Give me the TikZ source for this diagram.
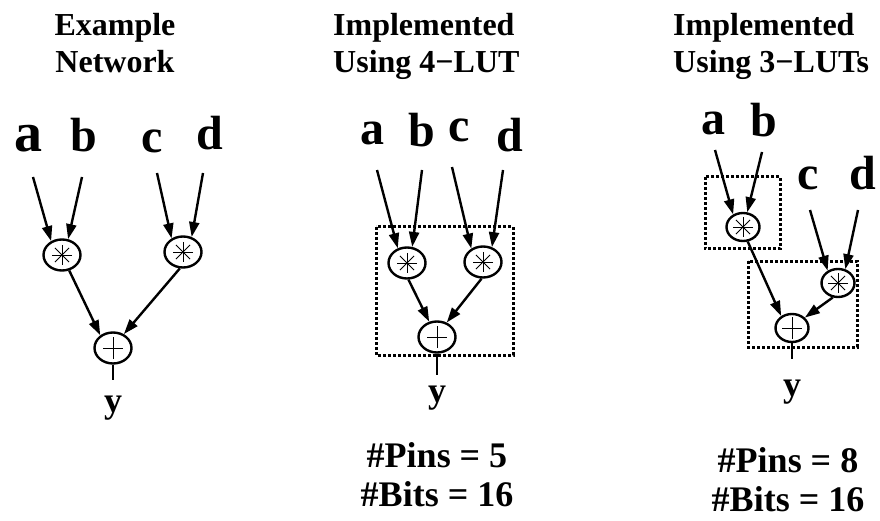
\documentclass[tikz,border=0pt]{standalone}
\usepackage{fontspec}
\setmainfont{Liberation Serif}
\usepackage{tikz}
\usetikzlibrary{shapes.geometric,arrows.meta,calc}

\begin{document}
\begin{tikzpicture}[
    x=1pt, y=-1pt,
    title/.style={font=\fontsize{32}{37}\selectfont\bfseries, inner sep=0pt},
    inp/.style={font=\fontsize{48}{48}\selectfont\bfseries, anchor=base, inner sep=0pt},
    outp/.style={font=\fontsize{36}{36}\selectfont\bfseries, anchor=base, inner sep=0pt},
    cost/.style={font=\fontsize{36}{39}\selectfont\bfseries, align=center, anchor=north, inner sep=0pt},
    op/.style={ellipse, draw, line width=2.4pt, inner sep=0pt, minimum width=37pt, minimum height=31pt},
    small/.style={minimum width=33pt, minimum height=28pt},
    mul/.style={op, path picture={
        \foreach \ang in {0,45,90,135}
            \draw[line width=0.9pt] ($(path picture bounding box.center)+(\ang:10pt)$) -- ($(path picture bounding box.center)+(\ang+180:10pt)$);
    }},
    add/.style={op, path picture={
        \draw[line width=0.9pt] ($(path picture bounding box.center)+(-10pt,0)$) -- ++(20pt,0pt);
        \draw[line width=0.9pt] ($(path picture bounding box.center)+(0,-11pt)$) -- ++(0pt,22pt);
    }},
    arrow/.style={-{Triangle[length=15pt,width=10pt]}, line width=2.4pt},
    wire/.style={line width=2.4pt},
    lutbox/.style={line width=3pt, dash pattern=on 3pt off 2pt}
]
\useasboundingbox (0,0) rectangle (880,521);

% Titles
\node[title, align=center, anchor=north] (ttl1) at (115,13) {Example\\Network};
\node[title, align=left, anchor=north west] (ttl2) at (333,13) {Implemented\\Using 4−LUT};
\node[title, align=left, anchor=north west] (ttl3) at (673,13) {Implemented\\Using 3−LUTs};

% Example network
\node[inp, font=\fontsize{56}{56}\selectfont\bfseries] (a1) at (28,152) {a};
\node[inp] (b1) at (84,152) {b};
\node[inp] (c1) at (152,153) {c};
\node[inp] (d1) at (210,150) {d};
\coordinate (a1t) at (33,177);
\coordinate (b1t) at (82,177);
\coordinate (c1t) at (157,173);
\coordinate (d1t) at (203,173);
\node[mul] (m11) at (62,255) {};
\node[mul] (m12) at (183,252) {};
\node[add] (s1) at (113,348) {};
\node[outp] (y1) at (113,412) {y};

\draw[arrow] (a1t) -- (m11.128);
\draw[arrow] (b1t) -- (m11.69);
\draw[arrow] (c1t) -- (m12.130);
\draw[arrow] (d1t) -- (m12.60);
\draw[arrow] (m11.295) -- (s1.135);
\draw[arrow] (m12.259) -- (s1.52);
\draw[wire, shorten >=15pt] (s1.south) -- (y1.north);

% One 4-LUT
\draw[lutbox] (376,227) rectangle (513,355);
\node[inp] (a2) at (372,145) {a};
\node[inp] (b2) at (422,147) {b};
\node[inp] (c2) at (459,142) {c};
\node[inp] (d2) at (510,152) {d};
\coordinate (a2t) at (377,170);
\coordinate (b2t) at (422,170);
\coordinate (c2t) at (452,167);
\coordinate (d2t) at (503,170);
\node[mul] (m21) at (407,263) {};
\node[mul] (m22) at (483,262) {};
\node[add] (s2) at (437,337) {};
\node[outp] (y2) at (437,402) {y};

\draw[arrow] (a2t) -- (m21.122);
\draw[arrow] (b2t) -- (m21.72);
\draw[arrow] (c2t) -- (m22.131);
\draw[arrow] (d2t) -- (m22.59);
\draw[arrow] (m21.275) -- (s2.117);
\draw[arrow] (m22.265) -- (s2.56);
\draw[wire, shorten >=10pt] (s2.south) -- (y2.north);

\node[cost] (cst2) at (437,442) {\#Pins = 5\\\#Bits = 16};

% Two 3-LUTs
\draw[lutbox] (705,177) rectangle (780,249);
\draw[lutbox] (748,261) rectangle (857,347);
\node[inp] (a3) at (713,135) {a};
\node[inp] (b3) at (764,137) {b};
\node[inp] (c3) at (808,190) {c};
\node[inp] (d3) at (863,190) {d};
\coordinate (a3t) at (715,150);
\coordinate (b3t) at (762,152);
\coordinate (c3t) at (810,210);
\coordinate (d3t) at (858,210);
\node[mul, small] (m31) at (743,227) {};
\node[mul, small] (m32) at (838,283) {};
\node[add, small] (s3) at (792,328) {};
\node[outp] (y3) at (792,396) {y};

\draw[arrow] (a3t) -- (m31.128);
\draw[arrow] (b3t) -- (m31.74);
\draw[arrow] (c3t) -- (m32.130);
\draw[arrow] (d3t) -- (m32.62);
\draw[arrow] (m31.288) -- (s3.132);
\draw[arrow] (m32.250) -- (s3.39);
\draw[wire, shorten >=20pt] (s3.south) -- (y3.north);

\node[cost] (cst3) at (788,447) {\#Pins = 8\\\#Bits = 16};

\end{tikzpicture}
\end{document}
